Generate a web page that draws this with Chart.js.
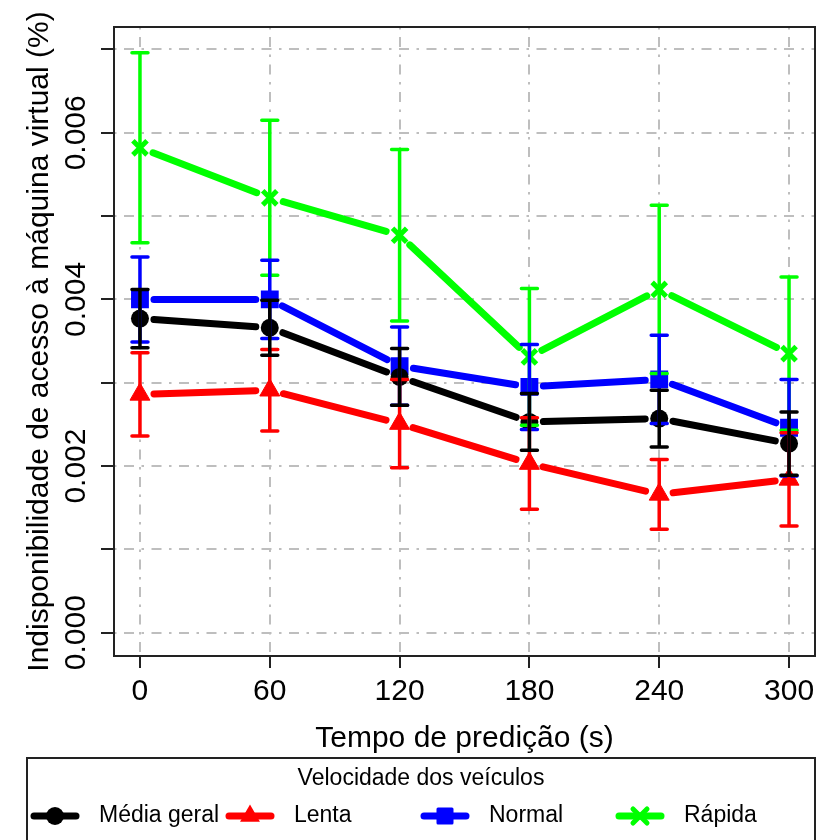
<!DOCTYPE html>
<html lang="pt-BR">
<head>
<meta charset="utf-8">
<title>Indisponibilidade por tempo de predição</title>
<script src="https://cdn.jsdelivr.net/npm/chart.js@4.4.1/dist/chart.umd.min.js"></script>
<style>
  html, body { margin: 0; padding: 0; background: #fff; }
  canvas { display: block; }
</style>
</head>
<body>
<canvas id="grafico" width="817" height="840"></canvas>
<script>
// dados (valores em fracao, eixo em %)
const tempos = [0, 60, 120, 180, 240, 300];

const mediaGeral     = [0.00377, 0.00366, 0.00307, 0.00253, 0.00257, 0.00227];
const mediaGeralErro = [0.00035, 0.00033, 0.00034, 0.00034, 0.00034, 0.00038];

const lenta     = [0.00286, 0.00291, 0.00251, 0.00203, 0.00166, 0.00184];
const lentaErro = [0.00050, 0.00049, 0.00053, 0.00055, 0.00042, 0.00056];

const normal     = [0.00400, 0.00400, 0.00320, 0.00295, 0.00304, 0.00246];
const normalErro = [0.00051, 0.00047, 0.00047, 0.00051, 0.00053, 0.00058];

const rapida     = [0.00582, 0.00522, 0.00477, 0.00331, 0.00412, 0.00335];
const rapidaErro = [0.00114, 0.00093, 0.00103, 0.00082, 0.00101, 0.00092];

const ticksY   = [0, 0.001, 0.002, 0.003, 0.004, 0.005, 0.006, 0.007];
const rotulosY = ["0.000", "", "0.002", "", "0.004", "", "0.006", ""];

const fonte = "'Liberation Sans', Arial, Helvetica, sans-serif";

function pontos(serie) {
    return tempos.map((t, i) => ({ x: t, y: serie[i] }));
}

// desenha o simbolo (usado na legenda)
function simbolo(ctx, estilo, cor, x, y) {
    ctx.save();
    ctx.fillStyle = cor;
    ctx.strokeStyle = cor;
    ctx.beginPath();
    if (estilo === "circle") {
        ctx.arc(x, y, 9, 0, Math.PI * 2);
        ctx.fill();
    } else if (estilo === "triangle") {
        const r = 11.5;
        ctx.moveTo(x, y - r);
        ctx.lineTo(x + r * 0.866, y + r * 0.5);
        ctx.lineTo(x - r * 0.866, y + r * 0.5);
        ctx.closePath();
        ctx.fill();
    } else if (estilo === "rect") {
        ctx.lineJoin = "round";
        ctx.lineWidth = 3;
        ctx.rect(x - 7, y - 7, 14, 14);
        ctx.fill();
        ctx.stroke();
    } else {
        const s = 7;
        ctx.lineWidth = 5;
        ctx.moveTo(x - s, y - s); ctx.lineTo(x + s, y + s);
        ctx.moveTo(x + s, y - s); ctx.lineTo(x - s, y + s);
        ctx.stroke();
    }
    ctx.restore();
}

const fundoBranco = {
    id: "fundoBranco",
    beforeDraw(chart) {
        const ctx = chart.ctx;
        ctx.save();
        ctx.fillStyle = "#fff";
        ctx.fillRect(0, 0, chart.width, chart.height);
        ctx.restore();
    }
};

// linhas entre os pontos com uma folga em volta de cada simbolo (tipo "b")
const linhasComFolga = {
    id: "linhasComFolga",
    beforeDatasetsDraw(chart) {
        const ctx = chart.ctx;
        const folga = 14;
        ctx.save();
        ctx.lineCap = "round";
        ctx.lineWidth = 7;
        for (let i = chart.data.datasets.length - 1; i >= 0; i--) {
            const meta = chart.getDatasetMeta(i);
            ctx.strokeStyle = chart.data.datasets[i].cor;
            for (let j = 0; j < meta.data.length - 1; j++) {
                const a = meta.data[j], b = meta.data[j + 1];
                const dx = b.x - a.x, dy = b.y - a.y;
                const d = Math.hypot(dx, dy);
                const ux = dx / d, uy = dy / d;
                ctx.beginPath();
                ctx.moveTo(a.x + ux * folga, a.y + uy * folga);
                ctx.lineTo(b.x - ux * folga, b.y - uy * folga);
                ctx.stroke();
            }
        }
        ctx.restore();
    }
};

const barrasDeErro = {
    id: "barrasDeErro",
    afterDatasetsDraw(chart) {
        const ctx = chart.ctx;
        const escalaY = chart.scales.y;
        const aba = 8;
        ctx.save();
        ctx.lineWidth = 3.5;
        ctx.lineCap = "round";
        for (let i = chart.data.datasets.length - 1; i >= 0; i--) {
            const ds = chart.data.datasets[i];
            const meta = chart.getDatasetMeta(i);
            ctx.strokeStyle = ds.cor;
            meta.data.forEach((p, j) => {
                const topo = escalaY.getPixelForValue(ds.data[j].y + ds.erro[j]);
                const base = escalaY.getPixelForValue(ds.data[j].y - ds.erro[j]);
                ctx.beginPath();
                ctx.moveTo(p.x, topo); ctx.lineTo(p.x, base);
                ctx.moveTo(p.x - aba, topo); ctx.lineTo(p.x + aba, topo);
                ctx.moveTo(p.x - aba, base); ctx.lineTo(p.x + aba, base);
                ctx.stroke();
            });
        }
        ctx.restore();
    }
};

// moldura, rotulos do eixo y (girados) e legenda
const extras = {
    id: "extras",
    afterDraw(chart) {
        const ctx = chart.ctx;
        const area = chart.chartArea;
        const escalaY = chart.scales.y;
        ctx.save();

        ctx.strokeStyle = "#222";
        ctx.lineWidth = 2;
        ctx.strokeRect(area.left, area.top, area.right - area.left, area.bottom - area.top);

        ctx.fillStyle = "#000";
        ctx.font = "30px " + fonte;
        ctx.textAlign = "center";
        ctx.textBaseline = "middle";
        ticksY.forEach((v, i) => {
            if (!rotulosY[i]) return;
            ctx.save();
            ctx.translate(77, escalaY.getPixelForValue(v));
            ctx.rotate(-Math.PI / 2);
            ctx.fillText(rotulosY[i], 0, 0);
            ctx.restore();
        });

        // legenda
        const caixa = { x: 27, y: 758, w: 788, h: 100 };
        ctx.strokeStyle = "#222";
        ctx.strokeRect(caixa.x, caixa.y, caixa.w, caixa.h);
        ctx.font = "23px " + fonte;
        ctx.fillText("Velocidade dos veículos", caixa.x + caixa.w / 2, 779);
        ctx.textAlign = "left";
        chart.data.datasets.forEach((ds, i) => {
            const x0 = 30 + i * 195;
            const yl = 816;
            ctx.strokeStyle = ds.cor;
            ctx.lineWidth = 7;
            ctx.lineCap = "round";
            ctx.beginPath();
            ctx.moveTo(x0 + 4, yl); ctx.lineTo(x0 + 46, yl);
            ctx.stroke();
            simbolo(ctx, ds.pointStyle, ds.cor, x0 + 25, yl);
            ctx.fillStyle = "#000";
            ctx.fillText(ds.label, x0 + 69, yl);
        });
        ctx.restore();
    }
};

const series = [
    { label: "Média geral", dados: mediaGeral, erro: mediaGeralErro, cor: "#000000", estilo: "circle", raio: 9, borda: 0 },
    { label: "Lenta", dados: lenta, erro: lentaErro, cor: "#ff0000", estilo: "triangle", raio: 11.5, borda: 1 },
    { label: "Normal", dados: normal, erro: normalErro, cor: "#0000ff", estilo: "rect", raio: 10.5, borda: 3 },
    { label: "Rápida", dados: rapida, erro: rapidaErro, cor: "#00ff00", estilo: "crossRot", raio: 10, borda: 5 }
];

new Chart(document.getElementById("grafico"), {
    type: "line",
    data: {
        datasets: series.map(s => ({
            label: s.label,
            data: pontos(s.dados),
            erro: s.erro,
            cor: s.cor,
            showLine: false,
            pointStyle: s.estilo,
            pointRadius: s.raio,
            pointBackgroundColor: s.cor,
            pointBorderColor: s.cor,
            pointBorderWidth: s.borda,
            borderColor: s.cor,
            backgroundColor: s.cor
        }))
    },
    options: {
        responsive: false,
        animation: false,
        events: [],
        layout: { autoPadding: false, padding: { top: 27, right: 2, left: 0, bottom: 0 } },
        elements: { point: { borderJoinStyle: "round" } },
        plugins: {
            legend: { display: false },
            tooltip: { enabled: false }
        },
        scales: {
            x: {
                type: "linear",
                min: -12,
                max: 312,
                afterBuildTicks: escala => { escala.ticks = tempos.map(v => ({ value: v })); },
                afterFit: escala => {
                    escala.height = 184;
                    escala.paddingLeft = 0;
                    escala.paddingRight = 0;
                },
                ticks: {
                    color: "#000",
                    font: { family: fonte, size: 30 },
                    padding: 6,
                    maxRotation: 0,
                    callback: v => String(v)
                },
                grid: {
                    color: "#bebebe",
                    lineWidth: 2,
                    tickColor: "#222",
                    tickWidth: 2,
                    tickLength: 12,
                    tickBorderDash: []
                },
                border: { display: false, dash: [2.5, 7.5, 10, 7.5] },
                title: {
                    display: true,
                    text: "Tempo de predição (s)",
                    color: "#000",
                    font: { family: fonte, size: 30 },
                    padding: { top: 0, bottom: 83 }
                }
            },
            y: {
                type: "linear",
                min: -0.00028,
                max: 0.00727,
                afterBuildTicks: escala => { escala.ticks = ticksY.map(v => ({ value: v })); },
                afterFit: escala => {
                    escala.width = 114;
                    escala.paddingTop = 0;
                    escala.paddingBottom = 0;
                },
                ticks: { display: false },
                grid: {
                    color: "#bebebe",
                    lineWidth: 2,
                    tickColor: "#222",
                    tickWidth: 2,
                    tickLength: 13,
                    tickBorderDash: []
                },
                border: { display: false, dash: [2.5, 7.5, 10, 7.5] },
                title: {
                    display: true,
                    text: "Indisponibilidade de acesso à máquina virtual (%)",
                    color: "#000",
                    font: { family: fonte, size: 30 },
                    padding: { top: 22, bottom: 0 }
                }
            }
        }
    },
    plugins: [fundoBranco, linhasComFolga, barrasDeErro, extras]
});
</script>
</body>
</html>
